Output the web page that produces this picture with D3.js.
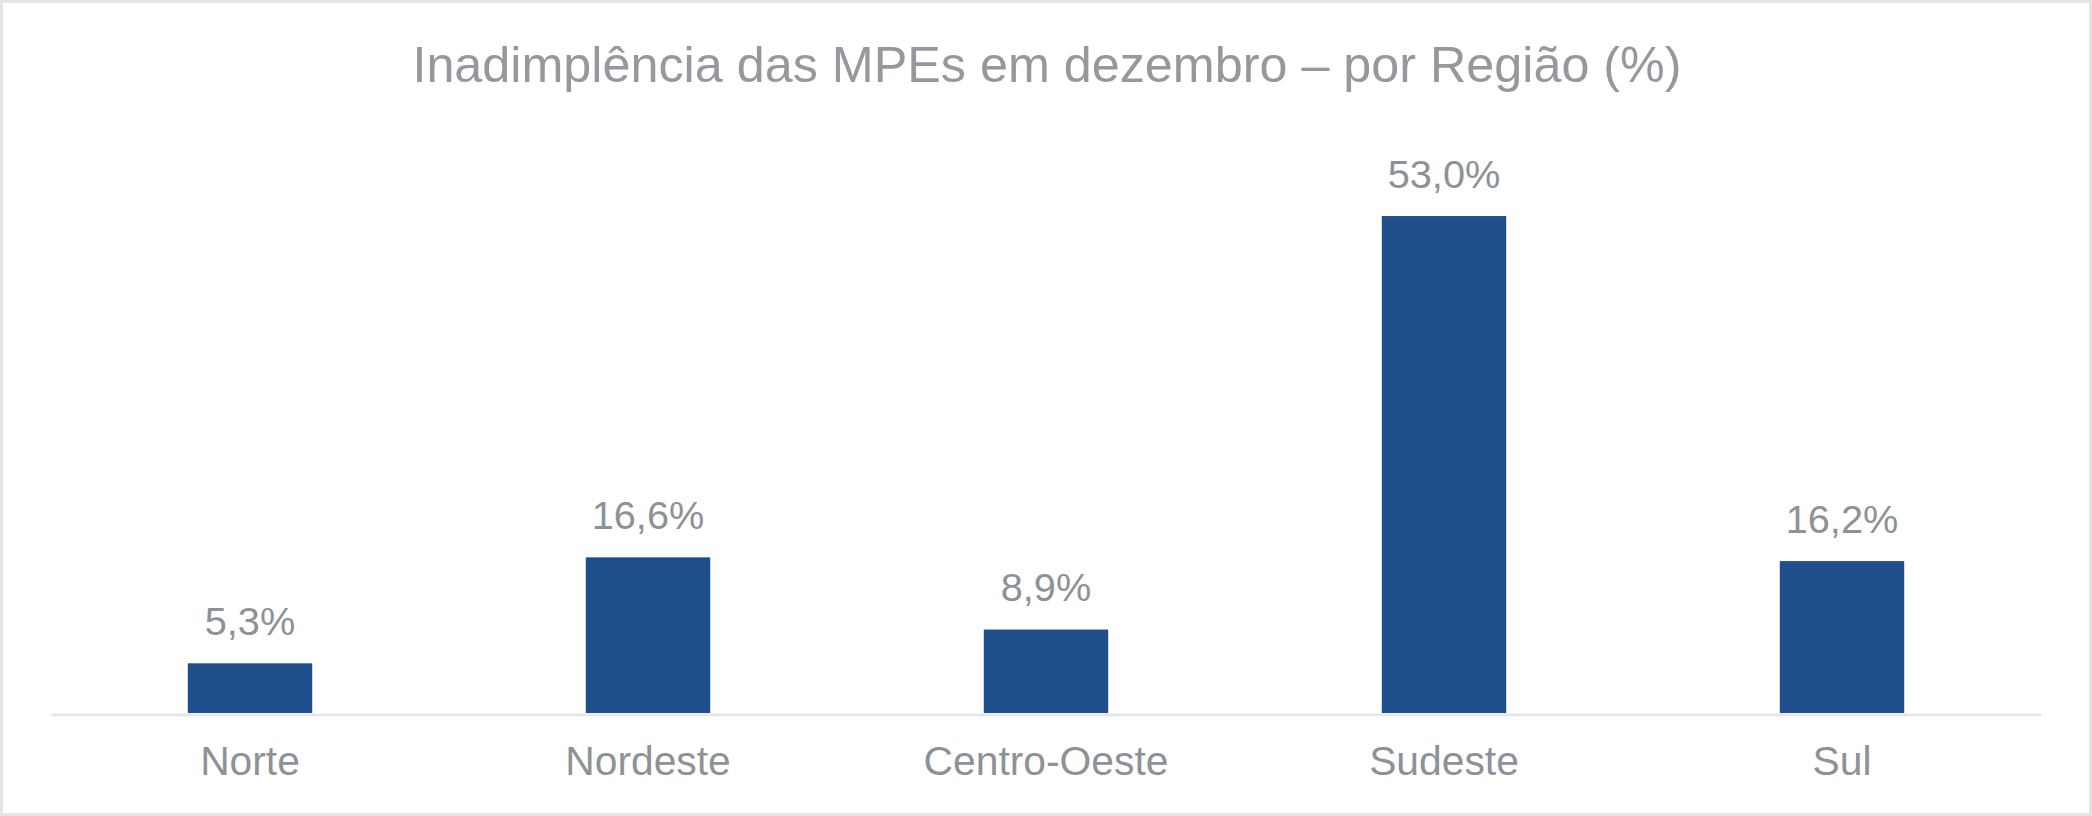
<!DOCTYPE html>
<html>
<head>
<meta charset="utf-8">
<script src="https://cdn.jsdelivr.net/npm/d3@7"></script>
<style>
  html, body { margin: 0; padding: 0; background: #ffffff; }
  svg { display: block; }
</style>
</head>
<body>
<div id="chart"></div>
<script>
// Data
const regions = ["Norte", "Nordeste", "Centro-Oeste", "Sudeste", "Sul"];
const values = [5.3, 16.6, 8.9, 53.0, 16.2];
const titleText = "Inadimplência das MPEs em dezembro – por Região (%)";
const yDomain = [0, 60];

const width = 2092, height = 816;
const margin = {left: 51, right: 51, top: 150.4, bottom: 103};

const svg = d3.select('#chart')
              .append('svg')
              .attr('width', width)
              .attr('height', height);

// outer frame
svg.append('rect')
   .attr('x', 1.5).attr('y', 1.5)
   .attr('width', width - 3).attr('height', height - 3)
   .attr('fill', '#ffffff')
   .attr('stroke', '#e4e4e4')
   .attr('stroke-width', 3);

const x = d3.scaleBand()
            .domain(regions)
            .range([margin.left, width - margin.right])
            .paddingInner(0.6874)
            .paddingOuter(0.3437);

const y = d3.scaleLinear()
            .domain(yDomain)
            .range([height - margin.bottom, margin.top]);

const fontFamily = '"Liberation Sans", Arial, sans-serif';
const textColor = '#8e9196';

// title
svg.append('text')
   .attr('x', 1047)
   .attr('y', 81.7)
   .attr('text-anchor', 'middle')
   .attr('font-family', fontFamily)
   .attr('font-size', 50.3)
   .attr('fill', '#95989c')
   .text(titleText);

const rows = regions.map((r, i) => ({region: r, value: values[i]}));

// bars
svg.append('g')
   .selectAll('rect')
   .data(rows)
   .enter()
   .append('rect')
   .attr('x', d => x(d.region))
   .attr('y', d => y(d.value))
   .attr('width', x.bandwidth())
   .attr('height', d => y(0) - y(d.value))
   .attr('fill', '#1f4e8c');

// category axis (line only, labels below)
const xAxis = svg.append('g')
                 .attr('transform', `translate(0,${y(0) + 1.3})`)
                 .call(d3.axisBottom(x).tickSize(0).tickPadding(0));
xAxis.select('.domain')
     .attr('stroke', '#e6e6e6')
     .attr('stroke-width', 2.7);
xAxis.selectAll('.tick text')
     .attr('y', 775 - (y(0) + 1.3))
     .attr('dy', 0)
     .attr('font-family', fontFamily)
     .attr('font-size', 40.8)
     .attr('fill', textColor);

// data labels
svg.append('g')
   .selectAll('text')
   .data(rows)
   .enter()
   .append('text')
   .attr('x', d => x(d.region) + x.bandwidth() / 2)
   .attr('y', d => y(d.value) - 28.5)
   .attr('text-anchor', 'middle')
   .attr('font-family', fontFamily)
   .attr('font-size', 39.7)
   .attr('fill', textColor)
   .text(d => d3.format('.1f')(d.value).replace('.', ',') + '%');
</script>
</body>
</html>
